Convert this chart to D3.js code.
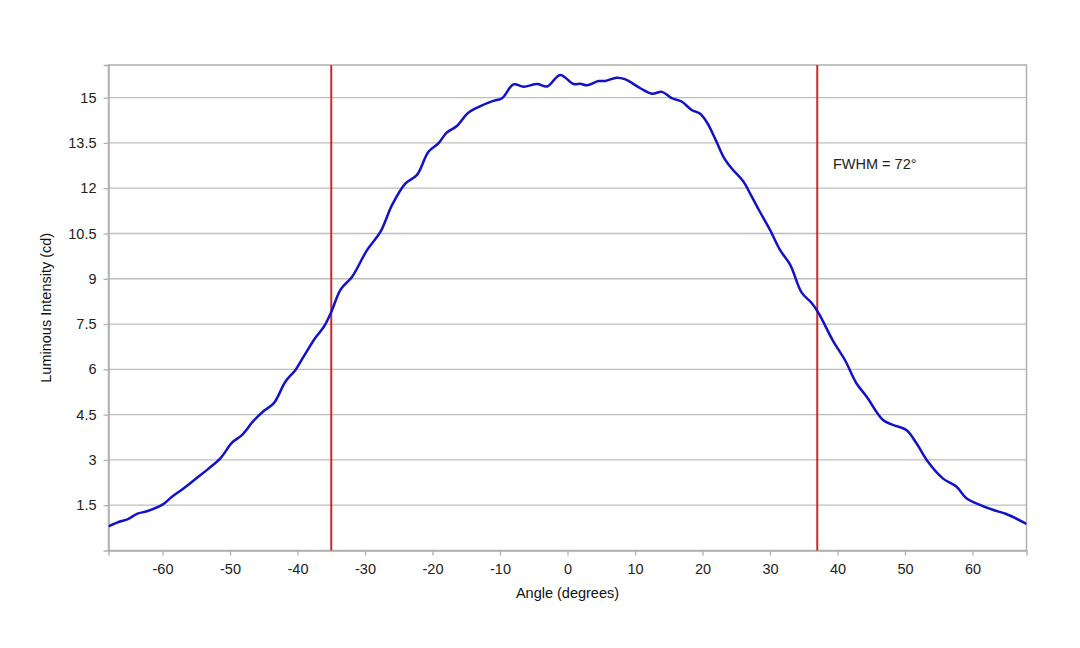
<!DOCTYPE html>
<html><head><meta charset="utf-8">
<script src="https://cdn.jsdelivr.net/npm/d3@7"></script>
<style>body{margin:0;background:#fff;} svg{display:block;font-family:"Liberation Sans",Arial,sans-serif;}</style>
</head><body><svg id="c" width="1080" height="648"></svg>
<script>
const angles = [-68,-66.2,-65.2,-63.7,-62.3,-60,-58.6,-56.6,-55.1,-53.4,-51.4,-49.7,-48.2,-46.5,-45,-43.5,-41.8,-40.3,-39.1,-37.4,-36.1,-35,-33.6,-31.9,-29.7,-27.7,-26,-24,-22.3,-20.6,-19.1,-17.9,-16.4,-14.7,-12.9,-11,-9.7,-8,-6.5,-4.5,-3,-1.1,0.9,1.9,2.9,4.6,5.6,7.3,8.5,10.8,12.5,14,15.45,16.9,18.4,19.6,20.6,21.85,23.1,24.3,26.05,27.3,28.5,30,31.5,33,34.7,36.2,37.2,39.4,41.1,42.8,44.3,46.75,48.2,50.2,51.7,53.4,55.6,57.6,59.1,61.1,63.1,65,68];
const intensity = [0.80,0.97,1.03,1.22,1.30,1.52,1.78,2.10,2.37,2.67,3.06,3.57,3.83,4.30,4.62,4.88,5.59,5.98,6.42,7.03,7.41,7.90,8.65,9.07,9.95,10.56,11.44,12.16,12.44,13.21,13.49,13.84,14.06,14.50,14.72,14.89,14.98,15.44,15.36,15.45,15.37,15.75,15.45,15.46,15.41,15.55,15.55,15.66,15.61,15.31,15.13,15.19,14.98,14.87,14.59,14.47,14.20,13.65,13.04,12.66,12.22,11.72,11.22,10.62,9.95,9.46,8.54,8.19,7.86,6.92,6.31,5.54,5.10,4.32,4.16,3.99,3.55,2.94,2.39,2.12,1.73,1.51,1.34,1.21,0.88];
const xTicks = [-60,-50,-40,-30,-20,-10,0,10,20,30,40,50,60];
const yTicks = [1.5,3,4.5,6,7.5,9,10.5,12,13.5,15];
const fwhmLines = [-35,37];
const fwhmLabel = "FWHM = 72°";
const xTitle = "Angle (degrees)";
const yTitle = "Luminous Intensity (cd)";

const L=108.5,R=1026.5,T=65,B=550.5;
const svg=d3.select("#c");
const x=d3.scaleLinear().domain([-68,68]).range([L,R]);
const y=d3.scaleLinear().domain([0,16.08]).range([B,T]);

svg.append("g").selectAll("line").data(yTicks).join("line")
  .attr("x1",L).attr("x2",R).attr("y1",d=>y(d)).attr("y2",d=>y(d))
  .attr("stroke","#bdbdbd").attr("stroke-width",1.3);

svg.append("rect").attr("x",L).attr("y",T).attr("width",R-L).attr("height",B-T)
  .attr("fill","none").attr("stroke","#b0b0b0").attr("stroke-width",1.5);

const xAxis=svg.append("g").attr("transform",`translate(0,${B})`)
  .call(d3.axisBottom(x).tickValues(xTicks).tickSize(5).tickPadding(8).tickFormat(d=>String(d)));
const yAxis=svg.append("g").attr("transform",`translate(${L},0)`)
  .call(d3.axisLeft(y).tickValues(yTicks).tickSize(5).tickPadding(7).tickFormat(d=>String(d)));
[xAxis,yAxis].forEach(a=>{
  a.select(".domain").attr("stroke","#b0b0b0").attr("stroke-width",1.5);
  a.selectAll(".tick line").attr("stroke","#b0b0b0").attr("stroke-width",1.3);
  a.selectAll(".tick text").attr("fill","#222").style("font-size","14.5px").style("font-family","Liberation Sans, Arial, sans-serif");
});

svg.append("clipPath").attr("id","clip").append("rect").attr("x",L).attr("y",T).attr("width",R-L).attr("height",B-T);

svg.append("g").selectAll("line").data(fwhmLines).join("line")
  .attr("x1",d=>x(d)).attr("x2",d=>x(d)).attr("y1",T).attr("y2",B)
  .attr("stroke","#cc2a2a").attr("stroke-width",2);

const pts=angles.map((a,i)=>[a,intensity[i]]);
svg.append("path").datum(pts).attr("clip-path","url(#clip)")
  .attr("d",d3.line().x(d=>x(d[0])).y(d=>y(d[1])).curve(d3.curveCatmullRom.alpha(0.5)))
  .attr("fill","none").attr("stroke","#1212c8").attr("stroke-width",2.5);

svg.append("text").attr("x",833).attr("y",169).text(fwhmLabel)
  .attr("fill","#222").style("font-size","14.5px");

svg.append("text").attr("x",(x(0))).attr("y",598).attr("text-anchor","middle")
  .text(xTitle).attr("fill","#111").style("font-size","14.5px");
svg.append("text").attr("transform",`translate(51,${(T+B)/2}) rotate(-90)`).attr("text-anchor","middle")
  .text(yTitle).attr("fill","#111").style("font-size","14.5px");
</script></body></html>
